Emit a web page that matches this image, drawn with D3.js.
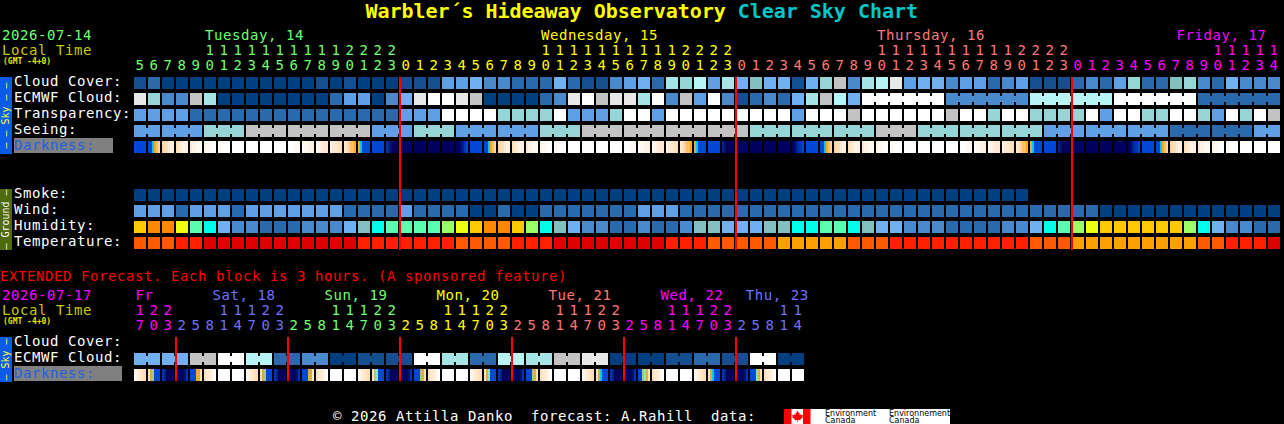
<!DOCTYPE html>
<html>
<head>
<meta charset="utf-8">
<script src="https://d3js.org/d3.v7.min.js"></script>
<style>
  body { margin: 0; background: #000; overflow: hidden; }
  svg { display: block; }
  text { font-family: "DejaVu Sans Mono", monospace; font-size: 14px; letter-spacing: 0.57px; white-space: pre; }
</style>
</head>
<body>
<div id="chart"></div>
<script>
// shades used by the cloud, transparency and seeing rows
const cloudShades = ["#003f7f","#14508f","#2a6aac","#4a8acc","#5f9fe3","#6fb0f0","#82bfbf","#95d5d5","#a5e5e5","#b5f5f5","#c3c3c3","#e8e8e8","#ffffff"];
const humidityShades = ["#2a6aac","#4a8acc","#6fb0f0","#82bfbf","#00ffea","#5affb0","#99ff66","#eeff14","#ffc800","#ff8800"];
const temperatureShades = ["#e00000","#ff2000","#ff5a00","#ffa000"];
const darknessShades = {a:"#ffffff",b:"#fff9f2",c:"#fff2e2",d:"#ffe9d0",e:"#ffdfb8",f:"#ffd49a",g:"#ffbe60",h:"#ffa828",
  t:"#d8b040",u:"#a8c880",p:"#8ce0c0",j:"#00c8ff",k:"#0048d8",l:"#0034b0",m:"#002090",n:"#000e70",o:"#000060"};

// hours along the top, one per block
const hours = [5,6,7,8,9,10,11,12,13,14,15,16,17,18,19,20,21,22,23,
  0,1,2,3,4,5,6,7,8,9,10,11,12,13,14,15,16,17,18,19,20,21,22,23,
  0,1,2,3,4,5,6,7,8,9,10,11,12,13,14,15,16,17,18,19,20,21,22,23,
  0,1,2,3,4,5,6,7,8,9,10,11,12,13,14];
const hourDays = [19,24,24,15];               // blocks per day
const dayColors = ["#70ff70","#ffff00","#ff7878","#ff00ff"];
const dayNames = ["Tuesday, 14","Wednesday, 15","Thursday, 16","Friday, 17"];
const dayCols = [5,29,53,74.4];
const midnights = [19,43,67];

const cloudCover = [1,2,0,0,0,0,0,0,0,0,0,0,0,1,0,1,0,0,0,1,1,1,4,4,5,3,3,2,2,2,5,2,1,1,3,4,5,2,8,7,9,4,8,5,6,5,5,1,5,7,10,3,8,9,11,4,5,5,3,4,4,2,3,4,1,1,1,2,3,2,4,7,2,2,6,7,3,2,5,3,3,3];
const ecmwfCloud = [11,7,3,3,10,8,0,0,0,0,0,0,0,0,2,4,4,0,3,5,11,12,12,11,10,0,0,0,0,2,3,11,12,10,11,11,8,12,3,10,4,12,3,1,2,3,2,5,8,10,9,5];
const ecmwfBlocks = [12,3,9,12,2];            // six hour blocks from Thursday evening
const transparency = [4,4,4,4,2,2,2,2,2,2,2,2,2,2,2,2,2,2,2,4,4,4,12,12,12,12,7,7,7,7,12,4,4,4,7,12,12,4,12,12,12,12,12,12,12,12,12,4,12,12,12,10,12,12,12,12,12,12,10,12,12,7,12,12,7,7,7,7,12,4,12,12,7,7,12,12,7,4,12,7,12,10];
const seeingSpans = [2,3,3,3,3,3,3,3,3,3,3,3,3,3,3,3,3,3,3,3,3,3,3,3,3,3,3,2];
const seeing = [4,4,7,10,10,10,4,7,4,4,7,10,10,10,10,7,7,7,10,7,7,7,4,4,4,2,2,4];
const darkness = [
  "kkkkkk","kkjhgf","feedcc","eddccc","dccbbb","cbbbaa","bbaaaa","aaaaaa","aaaaaa","aaaaaa","aaaaaa","aaabbb","abbccc","bccddd","cdddee","defggh","hjkkkk","kkkkkk","lmnooo",
  "oooooo","oooooo","oooooo","oooooo","oonmlk","kkkkkk","kkjhgf","feedcc","eddccc","dccbbb","cbbbaa","bbaaaa","aaaaaa","aaaaaa","aaaaaa","aaaaaa","aaabbb","abbccc","bccddd","cdddee","defggh","tjkkkk","kkkkkk","mnoooo",
  "oooooo","oooooo","oooooo","oooooo","onmllk","kkkkkk","kkjhgf","feedcc","eddccc","dccbbb","cbbbaa","bbaaaa","aaaaaa","aaaaaa","aaaaaa","aaaaaa","aaabbb","abbccc","bccddd","cdddee","defggh","tjkkkk","kkkkkk","mnoooo",
  "oooooo","oooooo","oooooo","oooooo","onmllk","kkkkkk","kkjhgf","feedcc","eddccc","dccbbb","cbbbaa","bbaaaa","aaaaaa","aaaaaa","aaaaaa"];
const smoke = [0,0,0,0,0,0,0,0,0,0,0,0,0,0,0,0,0,0,0,0,0,0,0,0,0,0,0,0,0,0,0,0,0,0,0,0,0,0,0,0,0,0,0,0,0,0,0,0,0,0,0,0,0,0,0,0,0,0,0,0,0,0,0,0];
const wind = [4,4,4,2,4,4,4,2,4,4,4,4,4,4,4,2,2,2,2,4,2,2,2,2,0,0,2,0,0,2,2,2,2,2,2,2,4,4,4,2,2,2,2,2,2,2,2,2,2,2,2,2,2,2,2,2,2,2,2,2,2,2,2,2,2,2,2,2,2,0,0,0,0,0,0,0,0,0,0,0,0,0];
const humidity = [8,9,9,7,5,4,2,1,1,0,0,0,1,1,1,2,3,4,5,5,5,5,6,7,8,9,9,8,6,4,3,2,1,1,0,0,1,0,0,1,3,3,2,2,2,3,3,4,4,5,5,4,3,2,2,1,1,1,0,0,0,0,1,1,2,4,5,6,7,8,8,8,8,8,8,6,4,2,1,1,0,0];
const temperature = [2,2,2,1,1,0,0,0,0,0,0,0,0,0,0,0,1,1,1,1,1,1,1,2,2,2,2,1,1,1,0,0,0,0,0,0,0,0,1,1,1,2,2,2,2,2,3,3,3,3,3,2,2,2,1,1,1,1,1,1,1,1,1,1,2,2,2,3,3,3,3,3,3,3,3,3,2,2,1,1,1,0];

// extended forecast, three hours a block
const extHours = [17,20,23,2,5,8,11,14,17,20,23,2,5,8,11,14,17,20,23,2,5,8,11,14,17,20,23,2,5,8,11,14,17,20,23,2,5,8,11,14,17,20,23,2,5,8,11,14];
const extDays = [3,8,8,8,8,8,5];
const extColors = ["#ff00ff","#7070ff","#70ff70","#ffff00","#ff7878","#ff00ff","#7070ff"];
const extNames = ["Fr","Sat, 18","Sun, 19","Mon, 20","Tue, 21","Wed, 22","Thu, 23"];
const extCols = [0.1,5.6,13.6,21.6,29.6,37.6,43.7];
const extMidnights = [3,11,19,27,35,43];
const extCloud = [5,5,10,12,9,2,3,0,1,1,12,8,2,9,8,10,11,0,0,1,2,1,12,0];
const extDarkness = [
  "bcddee","etukkk","lmoooo","oooonl","kkkhte","eddcba","aaaaaa","aaaaaa",
  "bcddee","etukkk","lmoooo","oooonl","kkkttd","eddcba","aaaaaa","aaaaaa",
  "bcddee","eupkkk","lmoooo","oooonl","kkkute","eddcba","aaaaaa","aaaaaa",
  "bcddee","etpkkk","lmoooo","oooonl","kkkute","eddcba","aaaaaa","aaaaaa",
  "bcddee","etjkkk","lmoooo","oooonl","kkupte","eddcba","aaaaaa","aaaaaa",
  "bcddee","etjkkk","lmoooo","oooonl","kkkpte","eddcba","aaaaaa","aaaaaa"];

const skyLabels = ["Cloud Cover:","ECMWF Cloud:","Transparency:","Seeing:"];
const groundLabels = ["Smoke:","Wind:","Humidity:","Temperature:"];

const W = 1284, H = 424, cellW = 12, cellH = 12, notch = 3;
const svg = d3.select("#chart").append("svg").attr("width", W).attr("height", H)
  .style("background", "#000");

const x = d3.scaleLinear().domain([0, 82]).range([134, 1282]);
const y = d3.scaleLinear().domain([0, 10]).range([77, 237]);
const yExt = d3.scaleLinear().domain([0, 2]).range([337, 369]);

function label(str, px, py, color) {
  return svg.append("text").attr("x", px).attr("y", py).attr("fill", color).text(str);
}

// plain row of single blocks
function cellRow(values, shades, top) {
  svg.append("g").selectAll("rect").data(values).join("rect")
    .attr("x", (d, i) => x(i)).attr("y", top)
    .attr("width", cellW).attr("height", cellH)
    .attr("shape-rendering", "crispEdges")
    .attr("fill", d => shades[d]);
}

// row whose blocks are joined in spans, with a notch between neighbours
function spanRow(spans, values, top, start) {
  let col = start || 0;
  spans.forEach((n, k) => {
    const g = svg.append("g").attr("fill", cloudShades[values[k]]).attr("shape-rendering", "crispEdges");
    g.selectAll("rect.block").data(d3.range(col, col + n)).join("rect").attr("class", "block")
      .attr("x", x).attr("y", top).attr("width", cellW).attr("height", cellH);
    g.selectAll("rect.join").data(d3.range(col, col + n - 1)).join("rect").attr("class", "join")
      .attr("x", d => x(d) + cellW).attr("y", top + notch)
      .attr("width", x(1) - x(0) - cellW).attr("height", cellH - 2 * notch);
    col += n;
  });
}

// darkness blocks are drawn strip by strip, six strips a block
function darknessRow(values, top) {
  const strip = d3.scaleLinear().domain([0, 6]).range([0, cellW]);
  svg.append("g").selectAll("g").data(values).join("g")
    .attr("shape-rendering", "crispEdges")
    .each(function (d, i) {
      d3.select(this).selectAll("rect").data(d.split("")).join("rect")
        .attr("x", (c, k) => x(i) + strip(k)).attr("y", top)
        .attr("width", strip(1)).attr("height", cellH)
        .attr("fill", c => darknessShades[c]);
    });
}

function hourLabels(values, colorOf, yTens, yUnits) {
  values.forEach((h, i) => {
    const cx = x(i) + cellW / 2;
    if (h >= 10) label(String(Math.floor(h / 10)), cx, yTens, colorOf(i)).attr("text-anchor", "middle");
    label(String(h % 10), cx, yUnits, colorOf(i)).attr("text-anchor", "middle");
  });
}

function colorBySpan(spans, colors) {
  const out = [];
  spans.forEach((n, k) => { for (let j = 0; j < n; j++) out.push(colors[k]); });
  return i => out[i];
}

function sideBar(y0, y1, color, textColor, str) {
  svg.append("rect").attr("x", 0).attr("y", y0).attr("width", 12).attr("height", y1 - y0)
    .attr("fill", color).attr("shape-rendering", "crispEdges");
  svg.append("text").attr("transform", `translate(9,${(y0 + y1) / 2}) rotate(-90)`)
    .attr("text-anchor", "middle").attr("fill", textColor)
    .style("font-size", "10px").style("letter-spacing", "0px").text(str);
}

function gmtLabel(py) {
  label("(GMT -4+0)", 3, py, "#e0e000")
    .style("font-size", "8px").style("letter-spacing", "0px").style("font-weight", "bold");
}

// title
const title = svg.append("text").attr("x", 641.7).attr("y", 18).attr("text-anchor", "middle")
  .style("font-size", "20px").style("font-weight", "bold").style("letter-spacing", "-0.03px");
title.append("tspan").attr("fill", "#ffff00").text("Warbler´s Hideaway Observatory ");
title.append("tspan").attr("fill", "#00c8c8").text("Clear Sky Chart");

// header, top chart
label("2026-07-14", 2, 40, dayColors[0]);
label("Local Time", 2, 55, "#c8c800");
gmtLabel(64);
dayNames.forEach((d, k) => label(d, x(dayCols[k]) + 1, 40, dayColors[k]));
hourLabels(hours, colorBySpan(hourDays, dayColors), 55, 70);

// row labels
skyLabels.forEach((l, k) => label(l, 14, y(k) + 9, "#ffffff"));
svg.append("rect").attr("x", 14).attr("y", 138).attr("width", 99).attr("height", 15)
  .attr("fill", "#808080").attr("shape-rendering", "crispEdges");
label("Darkness:", 14, y(4) + 9, "#2060e0");
groundLabels.forEach((l, k) => label(l, 14, y(k + 7) + 9, "#ffffff"));

// sky rows
cellRow(cloudCover, cloudShades, y(0));
cellRow(ecmwfCloud, cloudShades, y(1));
spanRow(ecmwfBlocks.map(() => 6), ecmwfBlocks, y(1), ecmwfCloud.length);
cellRow(transparency, cloudShades, y(2));
spanRow(seeingSpans, seeing, y(3));
darknessRow(darkness, y(4));

// ground rows
cellRow(smoke, cloudShades, y(7));
cellRow(wind, cloudShades, y(8));
cellRow(humidity, humidityShades, y(9));
cellRow(temperature, temperatureShades, y(10));

// midnight lines
svg.append("g").selectAll("rect").data(midnights).join("rect")
  .attr("x", d => x(d) - 1).attr("y", y(0)).attr("width", 2).attr("height", y(10) + cellH + 1 - y(0))
  .attr("fill", "#ff0000").attr("shape-rendering", "crispEdges");

sideBar(77, 154, "#0a5ce8", "#ffff30", "— — Sky — —");
sideBar(189, 250, "#4f6a08", "#ffffff", "– Ground –");

// extended forecast
label("EXTENDED Forecast. Each block is 3 hours. (A sponsored feature)", 0, 281, "#ff0000");
label("2026-07-17", 2, 300, extColors[0]);
label("Local Time", 2, 315, "#c8c800");
gmtLabel(324);
extNames.forEach((d, k) => label(d, x(extCols[k]), 300, extColors[k]));
hourLabels(extHours, colorBySpan(extDays, extColors), 315, 330);

label("Cloud Cover:", 14, yExt(0) + 9, "#ffffff");
label("ECMWF Cloud:", 14, yExt(1) + 9, "#ffffff");
svg.append("rect").attr("x", 14).attr("y", 366).attr("width", 108).attr("height", 15)
  .attr("fill", "#808080").attr("shape-rendering", "crispEdges");
label("Darkness:", 14, yExt(2) + 9, "#2060e0");

spanRow(extCloud.map(() => 2), extCloud, yExt(1));
darknessRow(extDarkness, yExt(2));

svg.append("g").selectAll("rect").data(extMidnights).join("rect")
  .attr("x", d => x(d) - 1).attr("y", yExt(0)).attr("width", 2).attr("height", yExt(2) + cellH - yExt(0))
  .attr("fill", "#ff0000").attr("shape-rendering", "crispEdges");

sideBar(337, 382, "#0a5ce8", "#ffff30", "– Sky –");

// footer
label("© 2026 Attilla Danko  forecast: A.Rahill  data:", 333, 421, "#ffffff");

// Environment Canada logo
const logo = svg.append("g");
logo.append("rect").attr("x", 784).attr("y", 409).attr("width", 166).attr("height", 15).attr("fill", "#ffffff");
logo.append("rect").attr("x", 784).attr("y", 409).attr("width", 7.5).attr("height", 15).attr("fill", "#ff0000");
logo.append("rect").attr("x", 803).attr("y", 409).attr("width", 7.5).attr("height", 15).attr("fill", "#ff0000");
logo.append("path").attr("fill", "#ff0000")
  .attr("d", "M797.2 410.5l1.6 2.4 1-.5-.4 2.6 1.6-.8.5 1 1.6-.2-.6 1.8.6.4-2.6 2-.2 1-2.4-.3v2h-.6v-2l-2.4.3-.2-1-2.6-2 .6-.4-.6-1.8 1.6.2.5-1 1.6.8-.4-2.6 1 .5z");
[["Environment", 825, 416], ["Canada", 825, 423], ["Environnement", 889, 416], ["Canada", 889, 423]].forEach(d => {
  svg.append("text").attr("x", d[1]).attr("y", d[2]).attr("fill", "#000")
    .style("font-family", "'DejaVu Sans'").style("font-size", "8px").style("letter-spacing", "0px").text(d[0]);
});
</script>
</body>
</html>
